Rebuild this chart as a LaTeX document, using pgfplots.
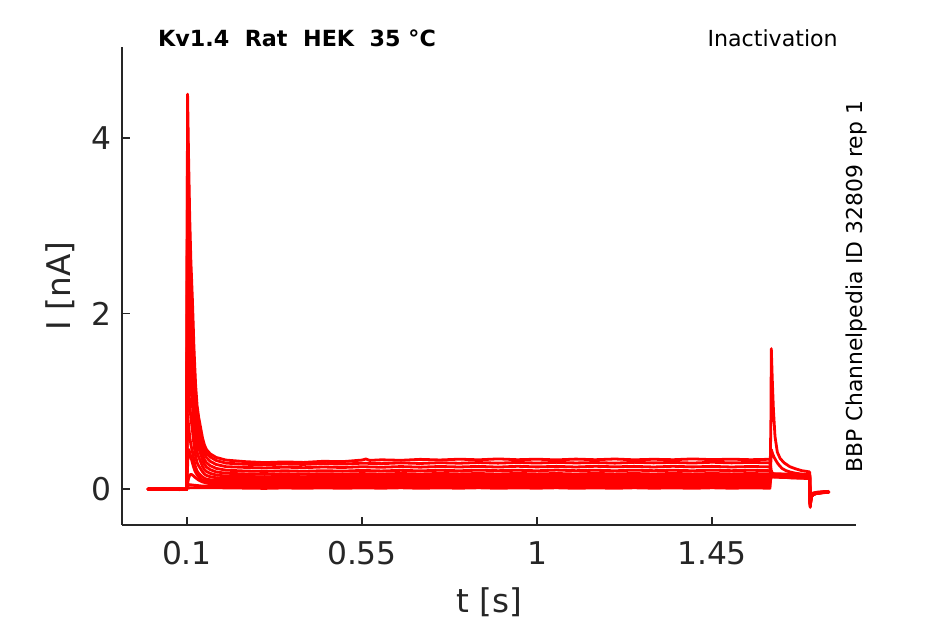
\documentclass[border=0pt]{standalone}
\usepackage{fontspec}
\setmainfont{DejaVu Sans}
\usepackage{pgfplots}
\pgfplotsset{compat=1.18}
\definecolor{axgray}{RGB}{38,38,38}
\definecolor{traceRed}{RGB}{255,0,0}
\tikzset{trace/.style={draw=traceRed, mark=none, line width=2.1pt, line join=round, line cap=round}}
\begin{document}
\begin{tikzpicture}
\path[use as bounding box] (0,0) rectangle (708.75pt,468pt);
\begin{axis}[
  at={(91.5pt,74.25pt)}, anchor=south west,
  scale only axis, width=550.5pt, height=358.5pt,
  xmin=-0.0671, xmax=1.8203, ymin=-0.41, ymax=5.037,
  axis x line=bottom, axis y line=left,
  axis line style={-, axgray, line width=0.8pt},
  tick align=inside, major tick length=6pt,
  tick style={axgray, line width=0.8pt},
  xtick={0.1,0.55,1,1.45}, xticklabels={0.1,0.55,1,1.45},
  ytick={0,2,4}, yticklabels={0,2,4},
  /pgf/number format/assume math mode=true,
  ticklabel style={font=\fontsize{23.5}{28}\selectfont, text=axgray},
  xticklabel style={yshift=-9pt},
  yticklabel style={xshift=-4.5pt},
  xlabel={t [s]}, ylabel={I [nA]},
  label style={font=\fontsize{24.5}{29}\selectfont, text=axgray},
  xlabel style={at={(axis description cs:0.5,-0.184)}, anchor=base},
  ylabel style={at={(axis description cs:-0.07,0.5)}, anchor=base},
  clip=false,
]
% T1
\addplot[trace] coordinates {(0.000,-0.004)(0.02,0.003)(0.04,-0.006)(0.06,0.002)(0.08,-0.005)(0.099,-0.003)
(0.1005,3.0)(0.1015,4.5)(0.104,3.8)(0.107,3.1)(0.110,2.6)(0.114,2.15)(0.118,1.6)(0.122,1.2)(0.126,0.95)(0.130,0.82)(0.135,0.70)(0.140,0.58)(0.145,0.50)(0.150,0.45)(0.160,0.40)(0.175,0.36)(0.200,0.33)
(0.25,0.312)(0.30,0.301)(0.35,0.309)(0.40,0.303)(0.45,0.316)(0.50,0.312)(0.55,0.330)(0.56,0.342)(0.57,0.326)(0.60,0.333)(0.65,0.327)(0.70,0.338)(0.75,0.331)(0.80,0.340)(0.85,0.333)(0.90,0.343)(0.95,0.334)(1.00,0.340)(1.05,0.332)(1.10,0.341)(1.15,0.334)(1.20,0.342)(1.25,0.333)(1.30,0.339)(1.35,0.334)(1.40,0.343)(1.45,0.335)(1.50,0.340)(1.55,0.334)(1.599,0.339)
(1.6025,0.18)(1.61,0.175)(1.63,0.172)(1.65,0.17)(1.67,0.168)(1.69,0.166)(1.701,0.165)
(1.7025,-0.12)(1.705,-0.07)(1.71,-0.045)(1.72,-0.036)(1.735,-0.03)(1.75,-0.027)};
% T2
\addplot[trace] coordinates {(0.000,0.002)(0.02,-0.005)(0.04,0.003)(0.06,-0.006)(0.08,0.001)(0.099,-0.004)
(0.1005,2.8)(0.1015,4.15)(0.104,3.50)(0.107,2.86)(0.110,2.39)(0.114,1.98)(0.118,1.47)(0.122,1.10)(0.126,0.87)(0.130,0.75)(0.135,0.64)(0.140,0.53)(0.145,0.46)(0.150,0.41)(0.160,0.365)(0.175,0.325)(0.200,0.295)
(0.25,0.282)(0.30,0.276)(0.35,0.285)(0.40,0.280)(0.45,0.290)(0.50,0.284)(0.55,0.294)(0.60,0.289)(0.65,0.298)(0.70,0.291)(0.75,0.300)(0.80,0.294)(0.85,0.302)(0.90,0.295)(0.95,0.303)(1.00,0.296)(1.05,0.304)(1.10,0.297)(1.15,0.302)(1.20,0.295)(1.25,0.304)(1.30,0.298)(1.35,0.303)(1.40,0.296)(1.45,0.305)(1.50,0.298)(1.55,0.303)(1.599,0.298)
(1.6025,0.175)(1.61,0.17)(1.63,0.167)(1.65,0.165)(1.67,0.163)(1.69,0.161)(1.701,0.16)
(1.7025,-0.14)(1.705,-0.075)(1.71,-0.05)(1.72,-0.04)(1.735,-0.034)(1.75,-0.03)};
% T3
\addplot[trace] coordinates {(0.000,-0.006)(0.02,0.001)(0.04,-0.004)(0.06,0.004)(0.08,-0.007)(0.099,0.000)
(0.1005,2.5)(0.1015,3.7)(0.104,3.13)(0.107,2.55)(0.110,2.14)(0.114,1.76)(0.118,1.31)(0.122,0.98)(0.126,0.78)(0.130,0.67)(0.135,0.57)(0.140,0.47)(0.145,0.40)(0.150,0.36)(0.160,0.315)(0.175,0.28)(0.200,0.255)
(0.25,0.246)(0.30,0.24)(0.35,0.249)(0.40,0.243)(0.45,0.251)(0.50,0.245)(0.55,0.254)(0.60,0.248)(0.65,0.256)(0.70,0.249)(0.75,0.257)(0.80,0.251)(0.85,0.258)(0.90,0.250)(0.95,0.259)(1.00,0.252)(1.05,0.258)(1.10,0.251)(1.15,0.259)(1.20,0.253)(1.25,0.258)(1.30,0.251)(1.35,0.259)(1.40,0.252)(1.45,0.258)(1.50,0.251)(1.55,0.257)(1.599,0.252)
(1.6025,0.17)(1.61,0.165)(1.63,0.162)(1.65,0.16)(1.67,0.158)(1.69,0.156)(1.701,0.155)
(1.7025,-0.16)(1.705,-0.08)(1.71,-0.052)(1.72,-0.042)(1.735,-0.036)(1.75,-0.032)};
% T4
\addplot[trace] coordinates {(0.000,0.001)(0.02,-0.003)(0.04,0.005)(0.06,-0.004)(0.08,0.003)(0.099,-0.006)
(0.1005,2.1)(0.1015,3.2)(0.104,2.70)(0.107,2.20)(0.110,1.85)(0.114,1.52)(0.118,1.13)(0.122,0.85)(0.126,0.66)(0.130,0.565)(0.135,0.48)(0.140,0.39)(0.145,0.335)(0.150,0.30)(0.160,0.265)(0.175,0.235)(0.200,0.215)
(0.25,0.205)(0.30,0.2)(0.35,0.208)(0.40,0.202)(0.45,0.209)(0.50,0.204)(0.55,0.212)(0.60,0.206)(0.65,0.213)(0.70,0.207)(0.75,0.214)(0.80,0.208)(0.85,0.215)(0.90,0.209)(0.95,0.214)(1.00,0.208)(1.05,0.216)(1.10,0.209)(1.15,0.214)(1.20,0.208)(1.25,0.215)(1.30,0.209)(1.35,0.214)(1.40,0.208)(1.45,0.215)(1.50,0.209)(1.55,0.214)(1.599,0.209)
(1.6025,0.165)(1.61,0.16)(1.63,0.157)(1.65,0.155)(1.67,0.153)(1.69,0.151)(1.701,0.15)
(1.7025,-0.17)(1.705,-0.082)(1.71,-0.054)(1.72,-0.044)(1.735,-0.037)(1.75,-0.033)};
% T5
\addplot[trace] coordinates {(0.000,-0.003)(0.02,0.004)(0.04,-0.002)(0.06,0.001)(0.08,-0.004)(0.099,0.002)
(0.1005,1.7)(0.1015,2.6)(0.104,2.20)(0.107,1.79)(0.110,1.50)(0.114,1.24)(0.118,0.92)(0.122,0.69)(0.126,0.545)(0.130,0.47)(0.135,0.40)(0.140,0.33)(0.145,0.28)(0.150,0.25)(0.160,0.22)(0.175,0.195)(0.200,0.18)
(0.25,0.172)(0.30,0.167)(0.35,0.174)(0.40,0.168)(0.45,0.175)(0.50,0.17)(0.55,0.176)(0.60,0.171)(0.65,0.177)(0.70,0.171)(0.75,0.178)(0.80,0.172)(0.85,0.177)(0.90,0.171)(0.95,0.178)(1.00,0.172)(1.05,0.177)(1.10,0.171)(1.15,0.178)(1.20,0.172)(1.25,0.177)(1.30,0.171)(1.35,0.178)(1.40,0.172)(1.45,0.177)(1.50,0.172)(1.55,0.177)(1.599,0.172)
(1.6025,0.16)(1.61,0.155)(1.63,0.152)(1.65,0.15)(1.67,0.148)(1.69,0.146)(1.701,0.145)
(1.7025,-0.18)(1.705,-0.085)(1.71,-0.056)(1.72,-0.045)(1.735,-0.038)(1.75,-0.034)};
% T6
\addplot[trace] coordinates {(0.000,0.003)(0.02,-0.006)(0.04,0.002)(0.06,-0.002)(0.08,0.004)(0.099,-0.005)
(0.1005,1.3)(0.1015,2.0)(0.104,1.69)(0.107,1.38)(0.110,1.16)(0.114,0.96)(0.118,0.71)(0.122,0.53)(0.126,0.42)(0.130,0.365)(0.135,0.31)(0.140,0.257)(0.145,0.22)(0.150,0.20)(0.160,0.178)(0.175,0.16)(0.200,0.148)
(0.25,0.143)(0.30,0.139)(0.35,0.145)(0.40,0.14)(0.45,0.146)(0.50,0.141)(0.55,0.147)(0.60,0.142)(0.65,0.147)(0.70,0.141)(0.75,0.148)(0.80,0.142)(0.85,0.147)(0.90,0.141)(0.95,0.148)(1.00,0.142)(1.05,0.147)(1.10,0.141)(1.15,0.147)(1.20,0.142)(1.25,0.148)(1.30,0.142)(1.35,0.147)(1.40,0.141)(1.45,0.147)(1.50,0.142)(1.55,0.147)(1.599,0.142)
(1.6025,0.155)(1.61,0.15)(1.63,0.147)(1.65,0.145)(1.67,0.143)(1.69,0.141)(1.701,0.14)
(1.7025,-0.19)(1.705,-0.088)(1.71,-0.058)(1.72,-0.046)(1.735,-0.039)(1.75,-0.035)};
% T7
\addplot[trace] coordinates {(0.000,-0.005)(0.02,0.002)(0.04,-0.006)(0.06,0.003)(0.08,-0.002)(0.099,-0.004)
(0.1005,0.9)(0.1015,1.4)(0.104,1.18)(0.107,0.97)(0.110,0.81)(0.114,0.67)(0.118,0.50)(0.122,0.38)(0.126,0.30)(0.130,0.265)(0.135,0.23)(0.140,0.195)(0.145,0.17)(0.150,0.155)(0.160,0.14)(0.175,0.128)(0.200,0.122)
(0.25,0.118)(0.30,0.114)(0.35,0.12)(0.40,0.115)(0.45,0.121)(0.50,0.116)(0.55,0.122)(0.60,0.117)(0.65,0.122)(0.70,0.116)(0.75,0.123)(0.80,0.117)(0.85,0.122)(0.90,0.116)(0.95,0.123)(1.00,0.117)(1.05,0.122)(1.10,0.116)(1.15,0.122)(1.20,0.117)(1.25,0.123)(1.30,0.117)(1.35,0.122)(1.40,0.116)(1.45,0.122)(1.50,0.117)(1.55,0.122)(1.599,0.117)
(1.6025,0.15)(1.61,0.145)(1.63,0.142)(1.65,0.14)(1.67,0.138)(1.69,0.136)(1.701,0.135)
(1.7025,-0.2)(1.705,-0.09)(1.71,-0.06)(1.72,-0.047)(1.735,-0.04)(1.75,-0.036)};
% T8
\addplot[trace] coordinates {(0.000,0.000)(0.02,-0.004)(0.04,0.004)(0.06,-0.005)(0.08,0.002)(0.099,-0.002)
(0.1005,0.55)(0.1015,0.85)(0.104,0.73)(0.107,0.60)(0.110,0.505)(0.114,0.425)(0.118,0.325)(0.122,0.25)(0.126,0.205)(0.130,0.18)(0.135,0.158)(0.140,0.137)(0.145,0.123)(0.150,0.113)(0.160,0.105)(0.175,0.099)(0.200,0.096)
(0.25,0.093)(0.30,0.09)(0.35,0.095)(0.40,0.09)(0.45,0.096)(0.50,0.091)(0.55,0.097)(0.60,0.092)(0.65,0.097)(0.70,0.091)(0.75,0.097)(0.80,0.092)(0.85,0.096)(0.90,0.091)(0.95,0.097)(1.00,0.092)(1.05,0.097)(1.10,0.091)(1.15,0.096)(1.20,0.091)(1.25,0.097)(1.30,0.092)(1.35,0.096)(1.40,0.091)(1.45,0.097)(1.50,0.092)(1.55,0.096)(1.599,0.092)
(1.6025,0.145)(1.61,0.14)(1.63,0.137)(1.65,0.135)(1.67,0.133)(1.69,0.131)(1.701,0.13)
(1.7025,-0.2)(1.705,-0.092)(1.71,-0.062)(1.72,-0.048)(1.735,-0.041)(1.75,-0.037)};
% T9
\addplot[trace] coordinates {(0.000,-0.002)(0.02,0.003)(0.04,-0.005)(0.06,0.000)(0.08,-0.006)(0.099,0.001)
(0.1015,0.25)(0.103,0.42)(0.105,0.45)(0.108,0.40)(0.112,0.33)(0.116,0.265)(0.120,0.21)(0.126,0.16)(0.132,0.127)(0.140,0.102)(0.150,0.088)(0.165,0.078)(0.200,0.072)
(0.25,0.068)(0.30,0.065)(0.35,0.07)(0.40,0.066)(0.45,0.071)(0.50,0.066)(0.55,0.071)(0.60,0.067)(0.65,0.072)(0.70,0.066)(0.75,0.071)(0.80,0.067)(0.85,0.072)(0.90,0.066)(0.95,0.071)(1.00,0.067)(1.05,0.072)(1.10,0.066)(1.15,0.071)(1.20,0.066)(1.25,0.072)(1.30,0.067)(1.35,0.071)(1.40,0.066)(1.45,0.072)(1.50,0.067)(1.55,0.071)(1.599,0.067)
(1.6025,0.14)(1.61,0.135)(1.63,0.132)(1.65,0.13)(1.67,0.128)(1.69,0.126)(1.701,0.125)
(1.7025,-0.19)(1.705,-0.09)(1.71,-0.06)(1.72,-0.047)(1.735,-0.04)(1.75,-0.036)};
% T10
\addplot[trace] coordinates {(0.000,0.004)(0.02,-0.003)(0.04,0.001)(0.06,-0.006)(0.08,0.003)(0.099,-0.003)
(0.1015,0.06)(0.104,0.12)(0.107,0.16)(0.111,0.168)(0.116,0.152)(0.122,0.128)(0.130,0.102)(0.140,0.08)(0.155,0.064)(0.180,0.055)(0.200,0.052)
(0.25,0.048)(0.30,0.045)(0.35,0.05)(0.40,0.046)(0.45,0.051)(0.50,0.046)(0.55,0.051)(0.60,0.047)(0.65,0.052)(0.70,0.046)(0.75,0.051)(0.80,0.047)(0.85,0.052)(0.90,0.046)(0.95,0.051)(1.00,0.047)(1.05,0.052)(1.10,0.046)(1.15,0.051)(1.20,0.046)(1.25,0.052)(1.30,0.047)(1.35,0.051)(1.40,0.046)(1.45,0.052)(1.50,0.047)(1.55,0.051)(1.599,0.047)
(1.6025,0.21)(1.606,0.17)(1.61,0.15)(1.63,0.135)(1.65,0.128)(1.67,0.124)(1.69,0.121)(1.701,0.12)
(1.7025,-0.18)(1.705,-0.088)(1.71,-0.058)(1.72,-0.046)(1.735,-0.039)(1.75,-0.035)};
% T11
\addplot[trace] coordinates {(0.000,-0.004)(0.02,0.001)(0.04,-0.003)(0.06,0.004)(0.08,-0.002)(0.099,-0.005)
(0.1015,0.03)(0.106,0.05)(0.115,0.045)(0.140,0.034)(0.200,0.03)
(0.25,0.028)(0.30,0.025)(0.35,0.03)(0.40,0.026)(0.45,0.031)(0.50,0.026)(0.55,0.031)(0.60,0.027)(0.65,0.032)(0.70,0.026)(0.75,0.031)(0.80,0.027)(0.85,0.032)(0.90,0.026)(0.95,0.031)(1.00,0.027)(1.05,0.032)(1.10,0.026)(1.15,0.031)(1.20,0.026)(1.25,0.032)(1.30,0.027)(1.35,0.031)(1.40,0.026)(1.45,0.032)(1.50,0.027)(1.55,0.031)(1.599,0.027)
(1.6025,0.45)(1.606,0.40)(1.61,0.36)(1.615,0.32)(1.62,0.285)(1.63,0.235)(1.64,0.21)(1.65,0.195)(1.665,0.18)(1.68,0.17)(1.701,0.162)
(1.7025,-0.2)(1.705,-0.092)(1.71,-0.062)(1.72,-0.048)(1.735,-0.041)(1.75,-0.037)};
% T12
\addplot[trace] coordinates {(0.000,0.002)(0.02,-0.004)(0.04,0.003)(0.06,-0.005)(0.08,0.001)(0.099,-0.004)
(0.1015,0.012)(0.12,0.016)(0.200,0.013)
(0.25,0.01)(0.30,0.007)(0.35,0.012)(0.40,0.008)(0.45,0.013)(0.50,0.008)(0.55,0.013)(0.60,0.009)(0.65,0.014)(0.70,0.008)(0.75,0.013)(0.80,0.009)(0.85,0.014)(0.90,0.008)(0.95,0.013)(1.00,0.009)(1.05,0.014)(1.10,0.008)(1.15,0.013)(1.20,0.008)(1.25,0.014)(1.30,0.009)(1.35,0.013)(1.40,0.008)(1.45,0.014)(1.50,0.009)(1.55,0.013)(1.599,0.009)
(1.6015,0.8)(1.6025,1.6)(1.605,1.25)(1.608,0.9)(1.612,0.6)(1.618,0.42)(1.625,0.35)(1.635,0.3)(1.65,0.255)(1.665,0.23)(1.68,0.21)(1.701,0.195)
(1.7025,-0.21)(1.705,-0.095)(1.71,-0.064)(1.72,-0.05)(1.735,-0.042)(1.75,-0.038)};
\end{axis}
\node[anchor=base, font=\fontsize{16.7}{20}\selectfont\bfseries] at (222.75pt,432.75pt) {Kv1.4\ \ Rat\ \ HEK\ \ 35 °C};
\node[anchor=base east, inner sep=0pt, font=\fontsize{16.6}{20}\selectfont] at (628.5pt,432.75pt) {Inactivation};
\node[anchor=base, rotate=90, inner sep=0pt, font=\fontsize{16.4}{20}\selectfont] at (646.5pt,253.1pt) {BBP Channelpedia ID 32809 rep 1};
\end{tikzpicture}
\end{document}
